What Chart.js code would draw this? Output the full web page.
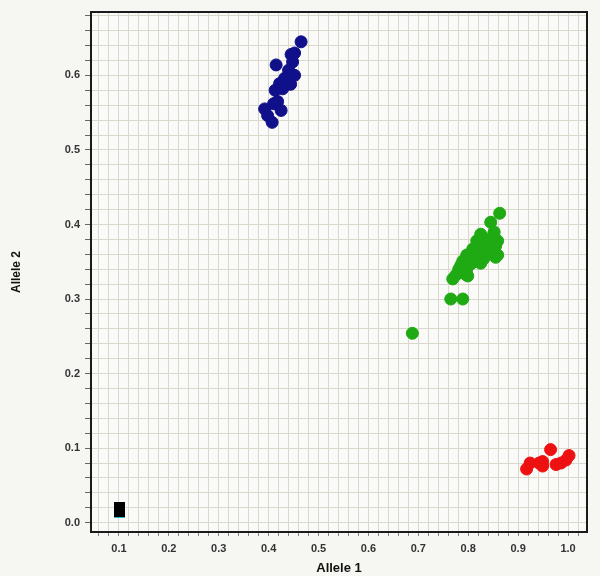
<!DOCTYPE html>
<html>
<head>
<meta charset="utf-8">
<script src="https://cdn.jsdelivr.net/npm/chart.js@4.4.1/dist/chart.umd.min.js"></script>
<style>
  html, body { margin: 0; padding: 0; background: #f6f6f3; }
  #wrap { width: 600px; height: 576px; }
</style>
</head>
<body>
<div id="wrap"><canvas id="cluster"></canvas></div>
<script>
// tick labels
const xTicks = [0.1, 0.2, 0.3, 0.4, 0.5, 0.6, 0.7, 0.8, 0.9, 1.0];
const yTicks = [0.0, 0.1, 0.2, 0.3, 0.4, 0.5, 0.6];

// genotype clusters (Allele 1, Allele 2)
const blueX = [0.465, 0.452, 0.445, 0.415, 0.448, 0.440, 0.452, 0.432, 0.444, 0.422, 0.413, 0.428, 0.410, 0.418, 0.425, 0.392, 0.398, 0.407];
const blueY = [0.645, 0.630, 0.628, 0.614, 0.618, 0.607, 0.600, 0.596, 0.588, 0.589, 0.580, 0.582, 0.562, 0.565, 0.553, 0.555, 0.546, 0.537];

const greenX = [0.863, 0.845, 0.852, 0.825, 0.851, 0.833, 0.817, 0.839, 0.859, 0.809, 0.831, 0.855, 0.797, 0.821, 0.845, 0.859, 0.789, 0.809, 0.831, 0.855, 0.785, 0.805, 0.781, 0.797, 0.825, 0.775, 0.795, 0.769, 0.799, 0.765, 0.789, 0.688];
const greenY = [0.415, 0.403, 0.390, 0.387, 0.387, 0.380, 0.378, 0.374, 0.378, 0.367, 0.370, 0.371, 0.359, 0.363, 0.364, 0.359, 0.351, 0.356, 0.354, 0.356, 0.345, 0.347, 0.340, 0.340, 0.348, 0.332, 0.333, 0.327, 0.331, 0.300, 0.300, 0.254];

const redX = [0.965, 0.924, 0.917, 0.949, 0.942, 0.949, 0.976, 0.986, 0.996, 1.002];
const redY = [0.098, 0.080, 0.072, 0.082, 0.080, 0.076, 0.078, 0.080, 0.084, 0.090];

const ntcX = [0.102];
const ntcY = [0.017];

const pts = (xs, ys) => xs.map((x, i) => ({ x: x, y: ys[i] }));

// rectangle marker for the no-template control
const ntcMark = document.createElement('canvas');
ntcMark.width = 11; ntcMark.height = 16;
const mctx = ntcMark.getContext('2d');
mctx.fillStyle = '#000';
mctx.fillRect(0, 0, 11, 15);
mctx.fillStyle = '#33c6d8';
mctx.fillRect(0, 15, 11, 1);

function minorTicks(step) {
  return function (axis) {
    const out = [];
    const start = Math.ceil(axis.min / step - 1e-9);
    for (let k = start; k * step <= axis.max + 1e-9; k++) {
      out.push({ value: +(k * step).toFixed(4) });
    }
    axis.ticks = out;
  };
}
function majorLabel(list) {
  return function (v) {
    return list.some(t => Math.abs(t - v) < 1e-6) ? v.toFixed(1) : '';
  };
}

const framePlugin = {
  id: 'frame',
  beforeDraw(chart) {
    const a = chart.chartArea, c = chart.ctx;
    c.save();
    c.fillStyle = '#fafaf8';
    c.fillRect(a.left, a.top, a.right - a.left, a.bottom - a.top);
    c.restore();
  },
  afterDraw(chart) {
    const a = chart.chartArea, c = chart.ctx;
    c.save();
    c.strokeStyle = '#1a1a1a';
    c.lineWidth = 2;
    c.strokeRect(a.left, a.top, a.right - a.left, a.bottom - a.top);
    c.restore();
  }
};

const tickFont = { family: 'Liberation Sans, Arial, sans-serif', size: 11, weight: 'bold' };
const titleFont = { family: 'Liberation Sans, Arial, sans-serif', size: 13, weight: 'bold' };

new Chart(document.getElementById('cluster'), {
  type: 'scatter',
  data: {
    datasets: [
      { label: 'Allele 2/2', data: pts(blueX, blueY), backgroundColor: '#10108a', borderColor: '#10108a', pointRadius: 6, pointHoverRadius: 6 },
      { label: 'Allele 1/2', data: pts(greenX, greenY), backgroundColor: '#1faa14', borderColor: '#1faa14', pointRadius: 6, pointHoverRadius: 6 },
      { label: 'Allele 1/1', data: pts(redX, redY), backgroundColor: '#ee1111', borderColor: '#ee1111', pointRadius: 6, pointHoverRadius: 6 },
      { label: 'NTC', data: pts(ntcX, ntcY), pointStyle: ntcMark, pointRadius: 8 }
    ]
  },
  options: {
    responsive: true,
    maintainAspectRatio: false,
    animation: false,
    layout: { padding: { top: 12, right: 13, left: 0, bottom: 0 } },
    plugins: { legend: { display: false }, tooltip: { enabled: false } },
    scales: {
      x: {
        type: 'linear',
        min: 0.044,
        max: 1.038,
        afterBuildTicks: minorTicks(0.02),
        afterFit: s => { s.height = 44; },
        grid: { color: '#dad8cc', lineWidth: 1, tickLength: 4, tickColor: '#888' },
        border: { display: false },
        ticks: { autoSkip: false, maxRotation: 0, padding: 6, color: '#333', font: tickFont, callback: majorLabel(xTicks) },
        title: { display: true, text: 'Allele 1', color: '#111', font: titleFont, padding: { top: 2, bottom: 0 } }
      },
      y: {
        type: 'linear',
        min: -0.0125,
        max: 0.685,
        afterBuildTicks: minorTicks(0.02),
        afterFit: s => { s.width = 91; },
        grid: { color: '#dad8cc', lineWidth: 1, tickLength: 6, tickColor: '#666' },
        border: { display: false },
        ticks: { autoSkip: false, padding: 5, color: '#333', font: tickFont, callback: majorLabel(yTicks) },
        title: { display: true, text: 'Allele 2', color: '#111', font: { family: 'Liberation Sans, Arial, sans-serif', size: 12, weight: 'bold' }, padding: { top: 9, bottom: 0 } }
      }
    }
  },
  plugins: [framePlugin]
});
</script>
</body>
</html>
